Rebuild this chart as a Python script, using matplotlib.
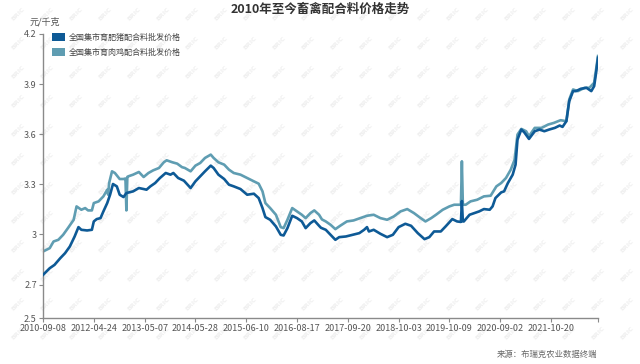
import matplotlib
matplotlib.use("Agg")
import matplotlib.pyplot as plt
from matplotlib.patches import Rectangle

plt.rcParams['font.family'] = ['Noto Sans CJK SC', 'DejaVu Sans']

title = "2010年至今畜禽配合料价格走势"
unit = "元/千克"
source = "来源：布瑞克农业数据终端"
series_names = ["全国集市育肥猪配合料批发价格", "全国集市育肉鸡配合料批发价格"]
colors = ["#0e5a96", "#5f9db2"]

x_labels = ["2010-09-08", "2012-04-24", "2013-05-07", "2014-05-28", "2015-06-10",
            "2016-08-17", "2017-09-20", "2018-10-03", "2019-10-09", "2020-09-02", "2021-10-20"]
label_step = 53
n_points = 580

y_ticks = [2.5, 2.7, 3.0, 3.3, 3.6, 3.9, 4.2]
y_tick_labels = ["2.5", "2.7", "3", "3.3", "3.6", "3.9", "4.2"]

# pig feed (week index, price)
pig_idx = [0, 7, 12, 18, 23, 28, 33, 37, 40, 46, 51, 53, 56, 60, 63, 67, 70, 73, 77, 80,
           84, 87, 94, 100, 105, 108, 112, 117, 122, 128, 133, 136, 141, 147, 154, 159, 164,
           169, 175, 178, 183, 189, 194, 199, 206, 213, 220, 225, 229, 232, 237, 243, 248,
           251, 255, 260, 265, 270, 274, 279, 283, 288, 290, 295, 300, 305, 309, 316, 323,
           330, 335, 338, 340, 345, 352, 359, 365, 371, 378, 384, 391, 398, 403, 408, 415,
           420, 427, 432, 436, 437, 438, 439, 445, 450, 455, 460, 466, 469, 472, 478, 481,
           485, 490, 493, 495, 499, 502, 507, 513, 518, 523, 528, 534, 539, 542, 546, 549,
           553, 556, 561, 567, 572, 575, 577, 579]
pig_val = [2.758, 2.798, 2.818, 2.858, 2.888, 2.928, 2.988, 3.044, 3.028, 3.024, 3.028, 3.078,
           3.092, 3.098, 3.138, 3.188, 3.238, 3.302, 3.288, 3.238, 3.224, 3.248, 3.258, 3.278,
           3.272, 3.268, 3.288, 3.308, 3.338, 3.368, 3.358, 3.368, 3.338, 3.322, 3.278, 3.318,
           3.348, 3.378, 3.412, 3.398, 3.358, 3.332, 3.298, 3.288, 3.272, 3.238, 3.244, 3.218,
           3.158, 3.104, 3.088, 3.048, 2.998, 2.994, 3.038, 3.112, 3.098, 3.078, 3.038, 3.068,
           3.084, 3.052, 3.040, 3.028, 2.998, 2.968, 2.984, 2.988, 2.998, 3.008, 3.028, 3.044,
           3.018, 3.028, 3.004, 2.984, 2.998, 3.044, 3.064, 3.052, 3.008, 2.972, 2.984, 3.018,
           3.018, 3.048, 3.092, 3.078, 3.075, 3.200, 3.078, 3.078, 3.118, 3.128, 3.138, 3.152,
           3.148, 3.168, 3.218, 3.252, 3.258, 3.308, 3.358, 3.418, 3.568, 3.628, 3.612, 3.572,
           3.618, 3.628, 3.618, 3.628, 3.638, 3.652, 3.644, 3.678, 3.798, 3.858, 3.858, 3.872,
           3.878, 3.858, 3.888, 3.968, 4.058]

# broiler feed (week index, price)
chk_idx = [0, 7, 11, 16, 21, 26, 32, 35, 40, 44, 47, 51, 53, 58, 63, 67, 68, 69, 72, 75, 80,
           84, 86, 87, 88, 89, 94, 100, 105, 110, 115, 121, 126, 129, 135, 140, 145, 148, 154,
           159, 164, 169, 175, 178, 183, 189, 194, 199, 206, 213, 220, 225, 229, 232, 237, 243,
           248, 251, 255, 260, 265, 270, 274, 279, 283, 288, 291, 295, 300, 305, 310, 317, 324,
           331, 338, 345, 352, 359, 366, 373, 380, 387, 394, 399, 405, 410, 417, 424, 429, 436,
           437, 438, 441, 446, 453, 460, 467, 473, 478, 483, 488, 492, 495, 499, 504, 507, 513,
           520, 527, 533, 540, 546, 549, 553, 558, 565, 570, 575, 577, 579]
chk_val = [2.898, 2.918, 2.958, 2.968, 2.998, 3.038, 3.088, 3.168, 3.148, 3.158, 3.144, 3.144,
           3.188, 3.198, 3.228, 3.268, 3.238, 3.308, 3.378, 3.368, 3.332, 3.332, 3.335, 3.144,
           3.345, 3.348, 3.358, 3.374, 3.344, 3.368, 3.384, 3.398, 3.432, 3.444, 3.432, 3.424,
           3.403, 3.398, 3.378, 3.412, 3.428, 3.458, 3.478, 3.458, 3.432, 3.418, 3.388, 3.368,
           3.358, 3.338, 3.318, 3.304, 3.258, 3.188, 3.158, 3.118, 3.044, 3.038, 3.088, 3.158,
           3.138, 3.118, 3.098, 3.128, 3.144, 3.118, 3.090, 3.078, 3.058, 3.032, 3.052, 3.078,
           3.084, 3.098, 3.112, 3.118, 3.098, 3.088, 3.108, 3.138, 3.152, 3.128, 3.098, 3.078,
           3.098, 3.118, 3.148, 3.168, 3.178, 3.178, 3.438, 3.178, 3.178, 3.198, 3.208, 3.228,
           3.232, 3.288, 3.308, 3.338, 3.388, 3.448, 3.598, 3.632, 3.618, 3.588, 3.638, 3.638,
           3.658, 3.668, 3.684, 3.678, 3.808, 3.868, 3.858, 3.878, 3.878, 3.908, 3.988, 4.068]

fig = plt.figure(figsize=(6.4, 3.64), dpi=100)

# faint watermark, kept inside the canvas and behind the chart
for wx in range(18, 630, 29):
    for wy in range(14, 352, 29):
        fig.text(wx / 640, 1 - wy / 364, "BRIC", fontsize=4.5, color="#efefef",
                 rotation=45, ha="center", va="center", family="DejaVu Sans",
                 fontweight="bold", zorder=-5)

ax = fig.add_axes([43 / 640, 1 - 318 / 364, (598 - 43) / 640, (318 - 34) / 364])
ax.patch.set_alpha(0)

ax.plot(pig_idx, pig_val, color=colors[0], lw=1.9, solid_joinstyle="round", zorder=3)
ax.plot(chk_idx, chk_val, color=colors[1], lw=1.9, solid_joinstyle="round", zorder=2)

ax.set_xlim(0, n_points - 1)
ax.set_ylim(y_ticks[0], y_ticks[-1])
ax.set_yticks(y_ticks)
ax.set_yticklabels(y_tick_labels)
xt = [i * label_step for i in range(len(x_labels))] + [n_points - 1]
ax.set_xticks(xt)
ax.set_xticklabels(x_labels + [""])

for s in ["top", "right"]:
    ax.spines[s].set_visible(False)
for s in ["left", "bottom"]:
    ax.spines[s].set_color("#8a8a8a")
    ax.spines[s].set_linewidth(1.0)
ax.tick_params(axis="both", colors="#8a8a8a", length=3, width=0.8, labelsize=6.5,
               labelcolor="#555555", pad=1.5)

fig.text(0.5, 1 - 9 / 364, title, ha="center", va="center", fontsize=9,
         fontweight="bold", color="#333333")
fig.text(30 / 640, 1 - 22 / 364, unit, ha="left", va="center", fontsize=6.5, color="#555555")
fig.text(597 / 640, 1 - 354 / 364, source, ha="right", va="center", fontsize=6, color="#666666")

# legend
for i, (name, c) in enumerate(zip(series_names, colors)):
    yc = 37 + i * 15
    fig.patches.append(Rectangle((52 / 640, 1 - (yc + 4) / 364), 13 / 640, 8 / 364,
                                 transform=fig.transFigure, facecolor=c, edgecolor="none"))
    fig.text(69 / 640, 1 - yc / 364, name, ha="left", va="center", fontsize=5.8, color="#444444")

fig.savefig("out.png", dpi=100)
